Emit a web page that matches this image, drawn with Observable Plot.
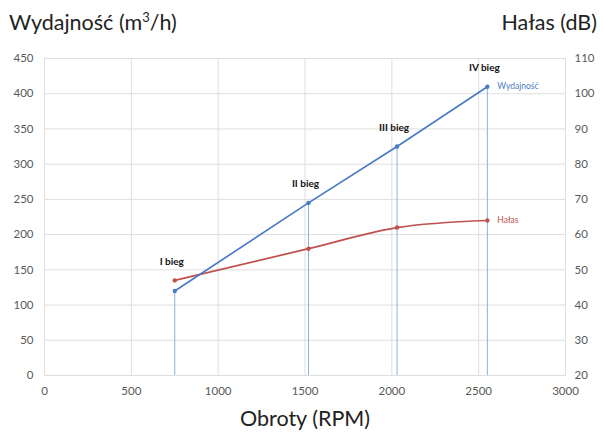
<!DOCTYPE html>
<html><head><meta charset="utf-8">
<script src="https://cdn.jsdelivr.net/npm/d3@7"></script>
<script src="https://cdn.jsdelivr.net/npm/@observablehq/plot@0.6"></script>
<style>
body{margin:0;background:#fff;font-family:Lato,sans-serif}
#wrap{position:relative;width:603px;height:435px}
.t{position:absolute;font-size:21.5px;line-height:24px;color:#222;white-space:nowrap}
.t sup{font-size:13px;line-height:0;vertical-align:8px}
svg{position:absolute;left:0;top:0}
</style></head><body>
<div id="wrap"></div>
<script>
const rpm = [750, 1520, 2030, 2550];
const gears = ["I bieg", "II bieg", "III bieg", "IV bieg"];
const wydajnosc = [120, 245, 325, 410];
const halas = [47, 56, 62, 64];
const xTicks = [0, 500, 1000, 1500, 2000, 2500, 3000];
const leftTicks = [0, 50, 100, 150, 200, 250, 300, 350, 400, 450];
const rightTicks = [20, 30, 40, 50, 60, 70, 80, 90, 100, 110];

const toLeft = db => (db - 20) * 5;
const data = rpm.map((r, i) => ({
  rpm: r, gear: gears[i], w: wydajnosc[i], h: toLeft(halas[i]),
  top: Math.max(wydajnosc[i], toLeft(halas[i]))
}));
const last = data[data.length - 1];
const blue = "#4a7cc4", red = "#c0504d";

const chart = Plot.plot({
  width: 603, height: 435,
  marginTop: 58, marginBottom: 60, marginLeft: 44, marginRight: 38,
  style: {fontFamily: "Lato, sans-serif", background: "transparent"},
  x: {domain: [0, 3000]},
  y: {domain: [0, 450]},
  marks: [
    Plot.gridX(xTicks, {stroke: "#dedede", strokeOpacity: 1}),
    Plot.gridY(leftTicks, {stroke: "#dedede", strokeOpacity: 1}),
    Plot.frame({stroke: "#dedede"}),
    Plot.axisX(xTicks, {tickSize: 0, tickPadding: 11, fontSize: 11.5, fill: "#595959", label: null, tickFormat: d3.format("d")}),
    Plot.axisY(leftTicks, {tickSize: 0, tickPadding: 11, fontSize: 11.5, fill: "#595959", label: null}),
    Plot.axisY(rightTicks.map(toLeft), {anchor: "right", tickSize: 0, tickPadding: 9, fontSize: 11.5, fill: "#595959", label: null, tickFormat: d => d / 5 + 20}),
    Plot.ruleX(data, {x: "rpm", y1: 0, y2: "w", stroke: "#8fb0dc", strokeWidth: 1}),
    Plot.line(data, {x: "rpm", y: "h", stroke: red, strokeWidth: 1.7, curve: "monotone-x"}),
    Plot.dot(data, {x: "rpm", y: "h", fill: red, r: 2.2}),
    Plot.line(data, {x: "rpm", y: "w", stroke: blue, strokeWidth: 1.7}),
    Plot.dot(data, {x: "rpm", y: "w", fill: blue, r: 2.2}),
    Plot.text(data, {x: "rpm", y: "top", text: "gear", dy: -19, dx: -3, fontSize: 10, fontWeight: 700, fill: "#111"}),
    Plot.text([last], {x: "rpm", y: "w", text: () => "Wydajność", dx: 10, textAnchor: "start", fontSize: 8.5, fill: blue}),
    Plot.text([last], {x: "rpm", y: "h", text: () => "Hałas", dx: 10, textAnchor: "start", fontSize: 8.5, fill: red})
  ]
});
const wrap = document.getElementById("wrap");
wrap.appendChild(chart);
wrap.insertAdjacentHTML("beforeend",
  '<div class="t" style="left:9px;top:10px">Wydajność (m<sup>3</sup>/h)</div>' +
  '<div class="t" style="right:6px;top:10px">Hałas (dB)</div>' +
  '<div class="t" style="left:0;width:610px;text-align:center;top:406px">Obroty (RPM)</div>');
</script>
</body></html>
